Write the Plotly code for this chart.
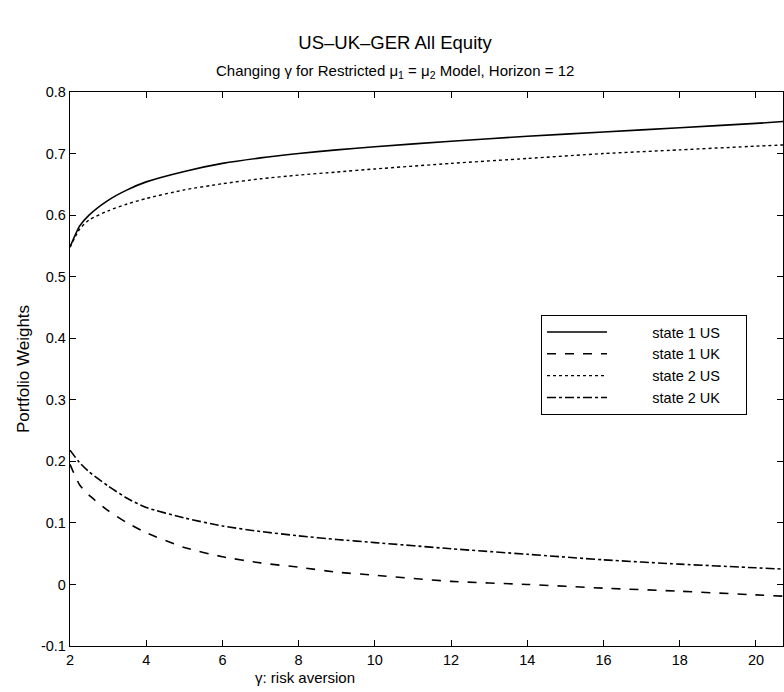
import plotly.graph_objects as go

gamma = [2, 2.25, 2.5, 3, 3.5, 4, 5, 6, 7, 8, 9, 10, 12, 14, 16, 18, 20, 20.71]
state1_us = [0.548, 0.582, 0.600, 0.624, 0.641, 0.654, 0.671, 0.684, 0.693, 0.700, 0.706, 0.711,
             0.720, 0.728, 0.735, 0.742, 0.749, 0.752]
state1_uk = [0.195, 0.162, 0.145, 0.120, 0.100, 0.084, 0.060, 0.045, 0.035, 0.028, 0.020, 0.015,
             0.005, 0.000, -0.006, -0.011, -0.017, -0.019]
state2_us = [0.548, 0.577, 0.592, 0.607, 0.618, 0.627, 0.641, 0.651, 0.659, 0.665, 0.670, 0.675,
             0.684, 0.692, 0.700, 0.706, 0.712, 0.714]
state2_uk = [0.218, 0.198, 0.183, 0.160, 0.140, 0.125, 0.108, 0.095, 0.086, 0.079, 0.073, 0.068,
             0.058, 0.049, 0.040, 0.033, 0.027, 0.025]

series_names = ["state 1 US", "state 1 UK", "state 2 US", "state 2 UK"]
x_ticks = [2, 4, 6, 8, 10, 12, 14, 16, 18, 20]
y_ticks = [-0.1, 0, 0.1, 0.2, 0.3, 0.4, 0.5, 0.6, 0.7, 0.8]
y_ticktext = ["-0.1", "0", "0.1", "0.2", "0.3", "0.4", "0.5", "0.6", "0.7", "0.8"]

FONT = "Arial, Liberation Sans, Helvetica, sans-serif"
NB = "\u00a0"

fig = go.Figure()
styles = ["solid", "dash", "dot", "dashdot"]
for name, vals, dash in zip(series_names, [state1_us, state1_uk, state2_us, state2_uk], styles):
    fig.add_trace(go.Scatter(
        x=gamma, y=vals, mode="lines", name=NB * 10 + name + NB * 5,
        line=dict(color="black", width=1.6 if dash != "dot" else 1.4, dash=dash, shape="spline", smoothing=0.6),
    ))

fig.update_layout(
    width=784, height=692,
    margin=dict(l=70, r=1, t=92, b=46),
    paper_bgcolor="white", plot_bgcolor="white",
    font=dict(family=FONT, color="black", size=14),
    showlegend=True,
    legend=dict(
        x=(541 - 70) / 713, y=(646 - 315) / 554, xanchor="left", yanchor="top",
        bordercolor="black", borderwidth=1, bgcolor="white",
        font=dict(size=14.5, family=FONT), itemwidth=60, tracegroupgap=0,
    ),
    title=dict(text="US\u2013UK\u2013GER All Equity", x=395 / 784, xanchor="center",
               y=1 - 43 / 692, yanchor="middle", xref="container", yref="container",
               font=dict(size=18.5, family=FONT)),
    annotations=[
        dict(text="Changing \u03b3 for Restricted \u03bc<sub>1</sub> = \u03bc<sub>2</sub> Model, Horizon = 12",
             xref="paper", yref="paper", x=(395 - 70) / 713, y=(646 - 72) / 554,
             xanchor="center", yanchor="middle", showarrow=False, font=dict(size=15, family=FONT)),
        dict(text="\u03b3: risk aversion", xref="paper", yref="paper",
             x=(305 - 70) / 713, y=(646 - 677) / 554, xanchor="center", yanchor="middle",
             showarrow=False, font=dict(size=15, family=FONT)),
    ],
)

fig.update_xaxes(
    range=[2, 20.71], tickvals=x_ticks, ticks="inside", ticklen=6, tickcolor="black",
    showline=True, linecolor="black", linewidth=1.3, mirror="ticks",
    showgrid=False, zeroline=False, tickfont=dict(size=14.5),
)
fig.update_yaxes(
    range=[-0.1, 0.8], tickvals=y_ticks, ticktext=y_ticktext, ticks="inside", ticklen=6,
    tickcolor="black", showline=True, linecolor="black", linewidth=1.3, mirror="ticks",
    showgrid=False, zeroline=False, tickfont=dict(size=14.5),
    title=dict(text="Portfolio Weights", font=dict(size=17), standoff=7),
)

fig.write_html("out.html")
